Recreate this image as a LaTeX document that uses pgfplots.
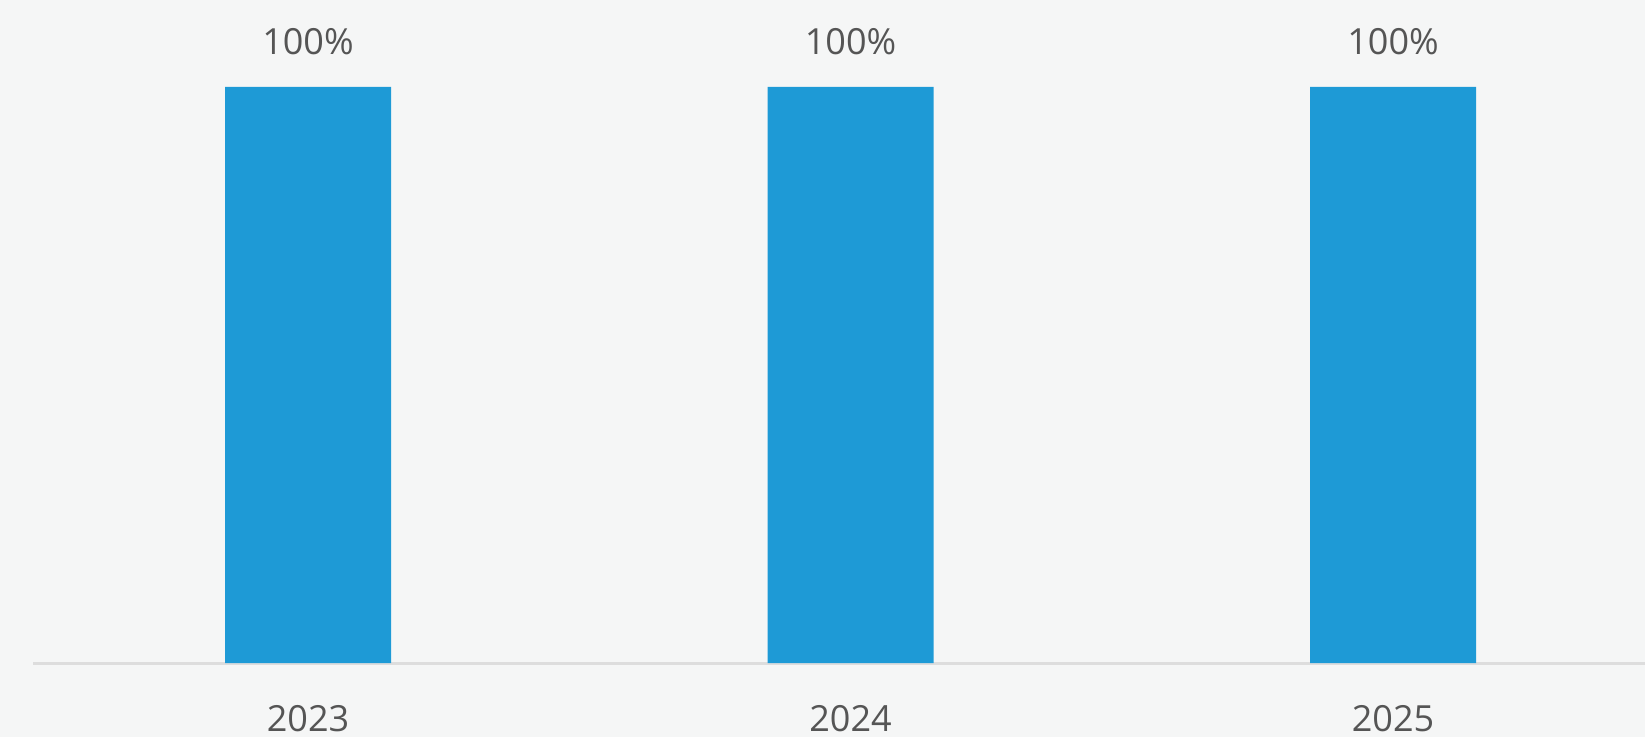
\documentclass[border=0pt]{standalone}
\usepackage{pgfplots}
\pgfplotsset{compat=1.18}
\usepackage{fontspec}
\setmainfont{Open Sans}
\definecolor{bg}{HTML}{F5F6F6}
\definecolor{barblue}{HTML}{1E9AD6}
\definecolor{txt}{HTML}{555555}
\definecolor{axisgray}{HTML}{DDDDDD}
\begin{document}
\begin{tikzpicture}[x=1pt,y=1pt]
\fill[bg] (0,0) rectangle (1645,737);
\useasboundingbox (0,0) rectangle (1645,737);
\begin{axis}[
  at={(33pt,74pt)}, anchor=south west,
  scale only axis, width=1612pt, height=663pt,
  xmin=-0.5069, xmax=2.4645, ymin=0, ymax=115.1,
  axis x line*=bottom, axis y line=none,
  x axis line style={axisgray, line width=3pt},
  xtick={0,1,2}, xticklabels={2023,2024,2025},
  major tick length=0pt, ytick=\empty,
  /pgf/number format/assume math mode=true,
  xticklabel style={anchor=north, inner sep=0pt, yshift=-42pt, font=\fontsize{36}{36}\selectfont, text=txt},
  clip=false,
  bar width=166pt,
  nodes near coords={\pgfmathprintnumber{\pgfplotspointmeta}\%},
  nodes near coords style={anchor=south, inner sep=0pt, yshift=32pt, font=\fontsize{36}{36}\selectfont, text=txt},
]
\addplot[ybar, fill=barblue, draw=none] coordinates {(0,100) (1,100) (2,100)};
\end{axis}
\end{tikzpicture}
\end{document}
